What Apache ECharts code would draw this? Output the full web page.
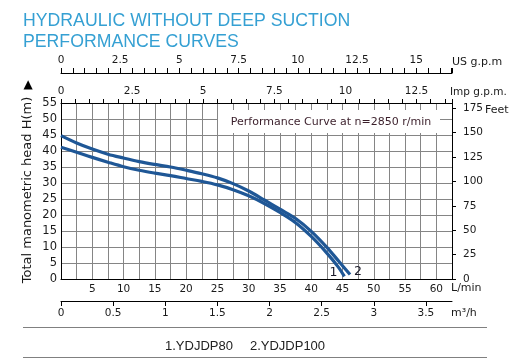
<!DOCTYPE html>
<html>
<head>
<meta charset="utf-8">
<script src="https://cdn.jsdelivr.net/npm/echarts@6/dist/echarts.min.js"></script>
<style>
html,body{margin:0;padding:0;background:#fff;}
#chart{width:518px;height:358px;}
</style>
</head>
<body>
<div id="chart"></div>
<script>
// ---- data ----
const seriesNames = ['1.YDJDP80', '2.YDJDP100'];
const flowLpm1 = [0, 2.5, 5, 7.5, 10, 12.5, 15, 17.5, 20, 22.5, 25, 27.5, 30, 32.5, 35, 37.5, 40, 42.5, 44.3, 45.3];
const headM1   = [41.2, 39.6, 38.0, 36.5, 35.1, 34.0, 33.1, 32.3, 31.4, 30.5, 29.4, 27.9, 26.0, 23.6, 20.8, 17.6, 13.3, 8.1, 3.8, 0.8];
const flowLpm2 = [0, 2.5, 5, 7.5, 10, 12.5, 15, 17.5, 20, 22.5, 25, 27.5, 30, 32.5, 35, 37.5, 40, 42.5, 44.5, 46.2];
const headM2   = [44.8, 42.5, 40.6, 39.0, 37.8, 36.7, 35.8, 35.0, 34.0, 32.9, 31.6, 29.8, 27.5, 24.7, 21.8, 18.9, 14.9, 9.9, 5.3, 1.4];

const lpmLabels  = [5, 10, 15, 20, 25, 30, 35, 40, 45, 50, 55, 60];
const m3hLabels  = [0, 0.5, 1, 1.5, 2, 2.5, 3, 3.5];
const usLabels   = [0, 2.5, 5, 7.5, 10, 12.5, 15];
const impLabels  = [0, 2.5, 5, 7.5, 10, 12.5];
const feetLabels = [0, 25, 50, 75, 100, 125, 150, 175];

const LPM_MAX = 62.5;
const H_MAX = 55;
const L_PER_US_GAL = 3.78541;
const L_PER_IMP_GAL = 4.54609;
const FT_PER_M = 3.28084;

// ---- chart ----
const chart = echarts.init(document.getElementById('chart'), null, {renderer: 'canvas'});
const txt = '#1a1a1a';
const gridGray = '#858585';
const curveBlue = '#1f5796';
const tickFont = 'DejaVu Sans';

function pairs(xs, ys) { return xs.map((x, i) => [x, ys[i]]); }

const option = {
  animation: false,
  backgroundColor: '#fff',
  grid: {left: 61, top: 103, width: 391, height: 176, containLabel: false},
  legend: {
    data: seriesNames,
    left: 155, top: 335,
    icon: 'none', itemWidth: 0, itemHeight: 0, itemGap: 12,
    textStyle: {fontFamily: 'Liberation Sans', fontSize: 13, color: '#222'}
  },
  xAxis: [
    { // L/min
      type: 'value', position: 'bottom', min: 0, max: LPM_MAX, interval: 2.5,
      axisLine: {show: true, lineStyle: {color: '#000', width: 1}},
      axisTick: {show: false},
      axisLabel: {customValues: lpmLabels, margin: 5, fontFamily: tickFont, fontSize: 10.5, color: txt},
      splitLine: {show: true, lineStyle: {color: gridGray, width: 1}}
    },
    { // m3/h
      type: 'value', position: 'bottom', offset: 22, min: 0, max: LPM_MAX * 60 / 1000,
      axisLine: {show: true, onZero: false, lineStyle: {color: '#000', width: 1}},
      axisTick: {show: true, customValues: m3hLabels, length: 5, lineStyle: {color: '#000'}},
      axisLabel: {customValues: m3hLabels, margin: 7, fontFamily: tickFont, fontSize: 10.5, color: txt},
      splitLine: {show: false}
    },
    { // Imp gpm
      type: 'value', position: 'top', min: 0, max: LPM_MAX / L_PER_IMP_GAL, interval: 0.5,
      axisLine: {show: true, onZero: false, lineStyle: {color: '#000', width: 1}},
      axisTick: {show: true, length: 4, lineStyle: {color: '#000'}},
      axisLabel: {customValues: impLabels, margin: 6, fontFamily: tickFont, fontSize: 10.5, color: txt},
      splitLine: {show: false}
    },
    { // US gpm
      type: 'value', position: 'top', offset: 30, min: 0, max: LPM_MAX / L_PER_US_GAL, interval: 0.5,
      axisLine: {show: true, onZero: false, lineStyle: {color: '#000', width: 1}},
      axisTick: {show: true, length: 5, lineStyle: {color: '#000'}},
      axisLabel: {customValues: usLabels, margin: 7, fontFamily: tickFont, fontSize: 10.5, color: txt},
      splitLine: {show: false}
    }
  ],
  yAxis: [
    {
      type: 'value', position: 'left', min: 0, max: H_MAX, interval: 5,
      axisLine: {show: true, onZero: false, lineStyle: {color: '#000', width: 1}},
      axisTick: {show: false},
      axisLabel: {margin: 4, fontFamily: tickFont, fontSize: 11.5, color: txt},
      splitLine: {show: true, lineStyle: {color: gridGray, width: 1}}
    },
    {
      type: 'value', position: 'right', min: 0, max: H_MAX * FT_PER_M,
      axisLine: {show: true, onZero: false, lineStyle: {color: '#000', width: 1}},
      axisTick: {show: true, customValues: feetLabels, length: 4, lineStyle: {color: '#000'}},
      axisLabel: {customValues: feetLabels, margin: 11, fontFamily: tickFont, fontSize: 10.5, color: txt, padding: [3, 0, 0, 0]},
      splitLine: {show: false}
    }
  ],
  series: [
    {
      name: seriesNames[0], type: 'line', xAxisIndex: 0, yAxisIndex: 0,
      data: pairs(flowLpm1, headM1), smooth: 0.35, showSymbol: false, symbol: 'none',
      lineStyle: {color: curveBlue, width: 3.2}, itemStyle: {color: curveBlue},
      endLabel: {show: true, formatter: '1', offset: [-23, -4], fontFamily: 'DejaVu Sans', fontSize: 12.5, color: '#1a1a2a'},
      z: 3
    },
    {
      name: seriesNames[1], type: 'line', xAxisIndex: 0, yAxisIndex: 0,
      data: pairs(flowLpm2, headM2), smooth: 0.35, showSymbol: false, symbol: 'none',
      lineStyle: {color: curveBlue, width: 3.2}, itemStyle: {color: curveBlue},
      endLabel: {show: true, formatter: '2', offset: [-4, -3], fontFamily: 'DejaVu Sans', fontSize: 12.5, color: '#1a1a2a'},
      z: 3
    }
  ],
  graphic: [
    {type: 'text', left: 23, top: 12, style: {text: 'HYDRAULIC WITHOUT DEEP SUCTION', font: '17.7px "Liberation Sans"', fill: '#35a0d3'}},
    {type: 'text', left: 23, top: 33, style: {text: 'PERFORMANCE CURVES', font: '17.7px "Liberation Sans"', fill: '#35a0d3'}},
    {type: 'text', x: 28, y: 85, style: {text: '▲', font: '12px "DejaVu Sans"', fill: '#000', align: 'center', verticalAlign: 'middle'}},
    {type: 'text', x: 28, y: 190, rotation: Math.PI / 2, style: {text: 'Total manometric head H(m)', font: '13px "DejaVu Sans"', fill: txt, align: 'center', verticalAlign: 'middle'}},
    {type: 'rect', shape: {x: 218, y: 110, width: 222, height: 23}, style: {fill: '#fff'}, z: 1},
    {type: 'text', x: 331, y: 122, z: 1, style: {text: 'Performance Curve at n=2850 r/min', font: '11px "DejaVu Sans"', fill: '#3a1e2a', align: 'center', verticalAlign: 'middle'}},
    {type: 'text', x: 452, y: 62, style: {text: 'US g.p.m', font: '11px "DejaVu Sans"', fill: txt, verticalAlign: 'middle'}},
    {type: 'text', x: 450, y: 92.5, style: {text: 'Imp g.p.m.', font: '10.5px "DejaVu Sans"', fill: txt, verticalAlign: 'middle'}},
    {type: 'text', x: 485, y: 110.5, style: {text: 'Feet', font: '11px "DejaVu Sans"', fill: txt, verticalAlign: 'middle'}},
    {type: 'text', x: 451, y: 288, style: {text: 'L/min', font: '11px "DejaVu Sans"', fill: txt, verticalAlign: 'middle'}},
    {type: 'text', x: 451, y: 313, style: {text: 'm³/h', font: '11px "DejaVu Sans"', fill: txt, verticalAlign: 'middle'}},
    {type: 'line', shape: {x1: 23, y1: 327.5, x2: 487, y2: 327.5}, style: {stroke: '#808080', lineWidth: 1}},
    {type: 'line', shape: {x1: 23, y1: 357.5, x2: 487, y2: 357.5}, style: {stroke: '#808080', lineWidth: 1}}
  ]
};
chart.setOption(option);
</script>
</body>
</html>
